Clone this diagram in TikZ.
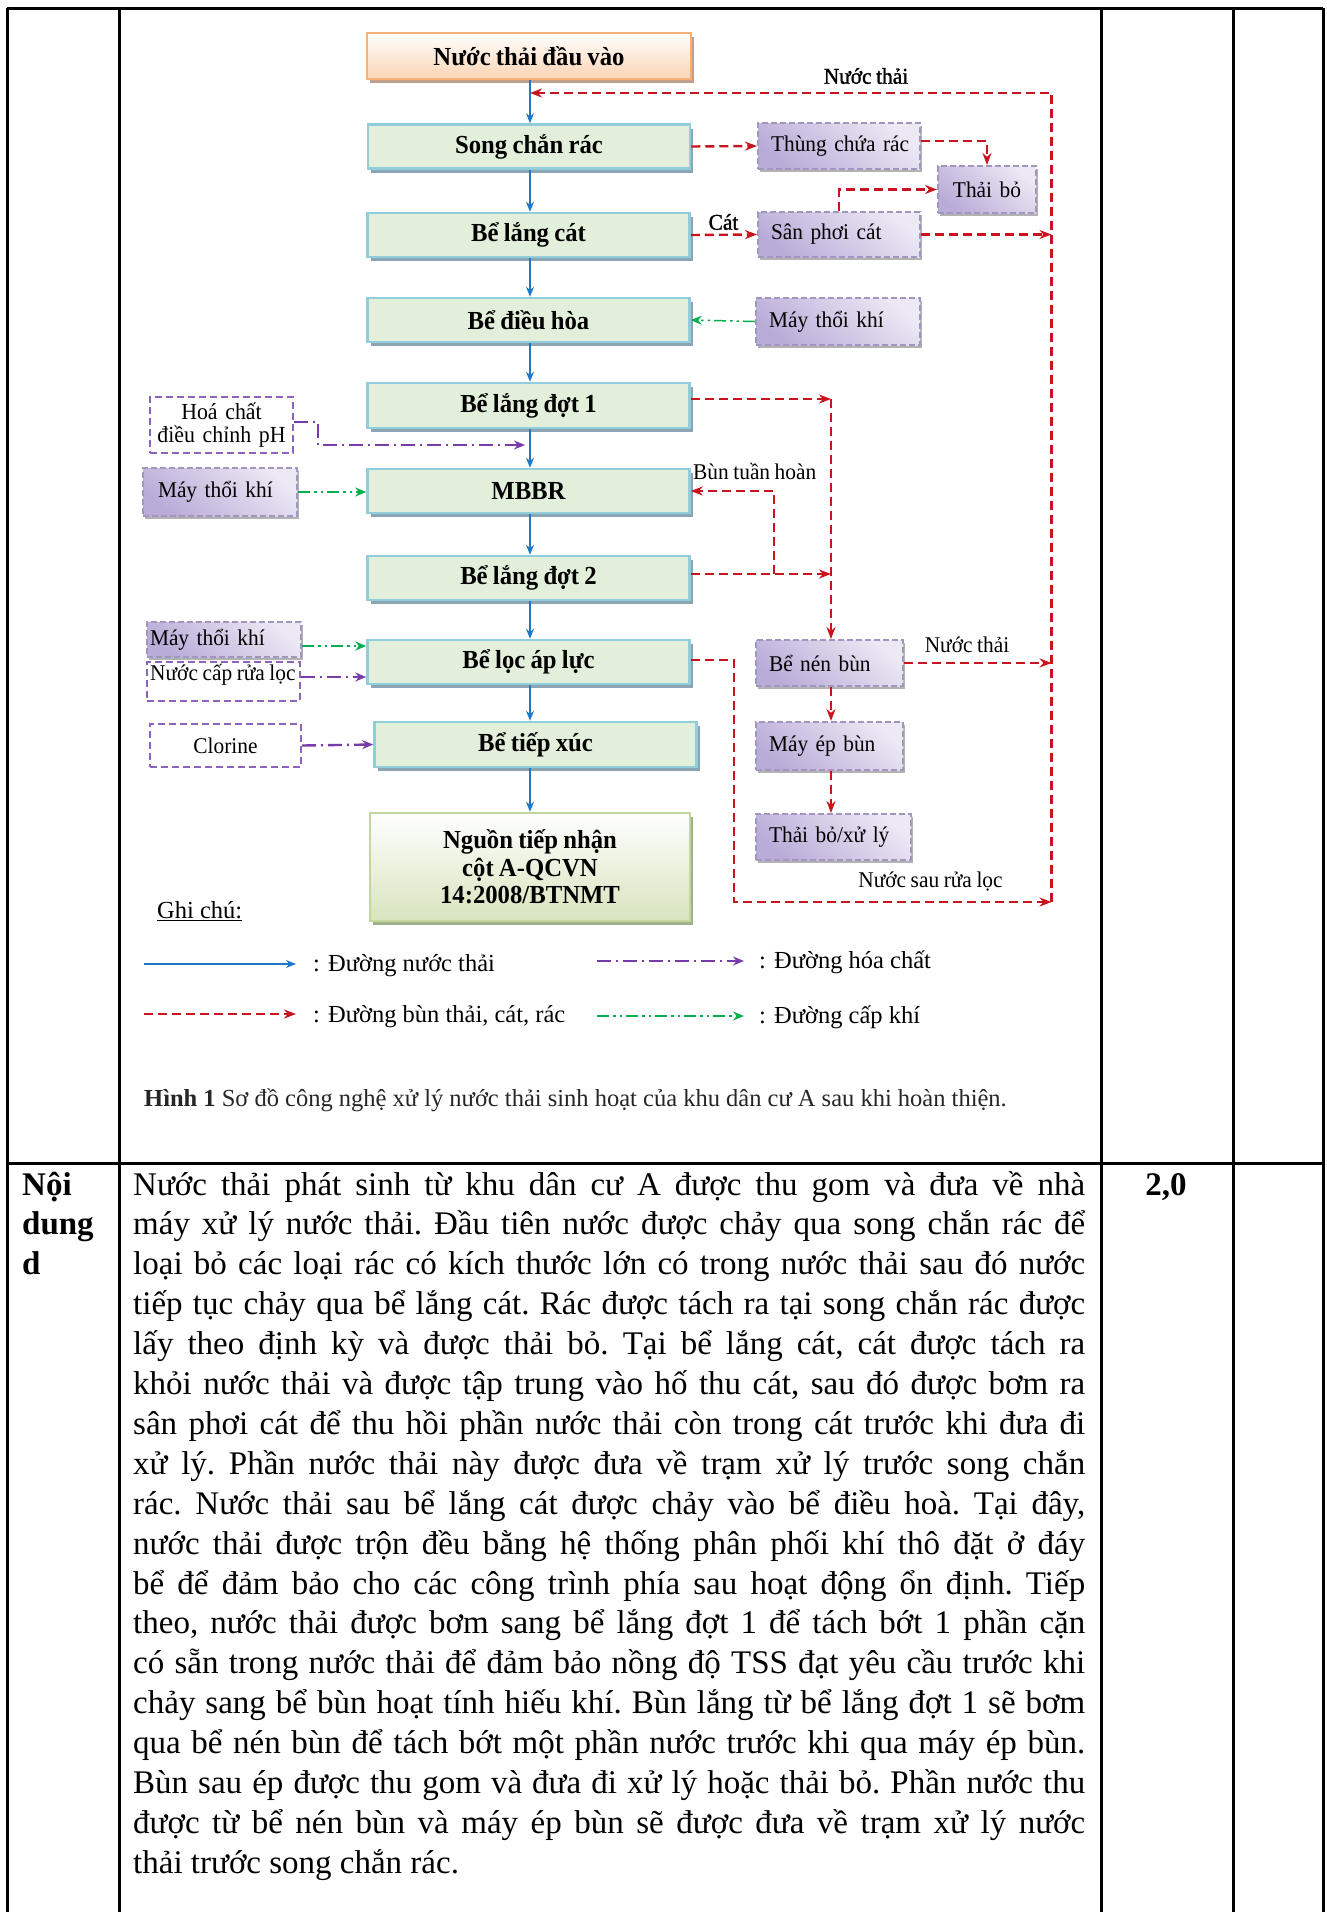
\documentclass[tikz,border=0pt]{standalone}
\usepackage{fontspec}
\setmainfont{Liberation Serif}
\newfontfamily\dgfont{Liberation Serif}[FakeStretch=0.95,WordSpace=0.85]
\newfontfamily\shfont{Liberation Serif}[FakeStretch=0.95,FakeBold=1.2,WordSpace=0.85]
\usetikzlibrary{arrows.meta,shadows,calc}
\definecolor{mfill}{RGB}{226,239,218}
\definecolor{mbord}{RGB}{146,205,220}
\definecolor{mshad}{RGB}{140,165,180}
\definecolor{ofill}{RGB}{251,212,180}
\definecolor{obord}{RGB}{247,176,120}
\definecolor{oshad}{RGB}{190,160,140}
\definecolor{gfill}{RGB}{215,228,189}
\definecolor{gbord}{RGB}{195,214,155}
\definecolor{gshad}{RGB}{160,175,140}
\definecolor{pdark}{RGB}{186,172,216}
\definecolor{plight}{RGB}{236,232,244}
\definecolor{pbord}{RGB}{160,150,190}
\definecolor{wbord}{RGB}{140,100,190}
\definecolor{redl}{RGB}{200,20,30}
\definecolor{bluel}{RGB}{30,120,200}
\definecolor{purl}{RGB}{120,60,170}
\definecolor{grnl}{RGB}{0,176,80}
\newcommand\boxfont{\dgfont\bfseries\fontsize{26}{29}\selectfont}
\newcommand\nguonfont{\dgfont\bfseries\fontsize{26}{27.5}\selectfont}
\newcommand\smallfont{\dgfont\fontsize{22.5}{23}\selectfont}
\newcommand\legfont{\fontsize{24.5}{28}\selectfont}
\newcommand\capfont{\fontsize{24.5}{28}\selectfont}
\newcommand\bodyfont{\fontsize{33}{39.9}\selectfont\frenchspacing}
\newcommand\bline[3]{\node[anchor=base west, inner sep=0pt, font=\bodyfont] (#1) at (133,#2) {\hbox to 952pt{#3}};}
\begin{document}
\begin{tikzpicture}[x=1pt,y=-1pt,
  tbl/.style={line width=3pt, black},
  mainbox/.style={draw=mbord, line width=2.5pt, fill=mfill, minimum width=322pt, minimum height=44pt, inner sep=0pt, font=\boxfont},
  mshadow/.style={drop shadow={shadow xshift=3pt, shadow yshift=-4pt, fill=mshad, opacity=1}},
  oshadow/.style={drop shadow={shadow xshift=3pt, shadow yshift=-4pt, fill=oshad, opacity=1}},
  gshadow/.style={drop shadow={shadow xshift=3pt, shadow yshift=-4pt, fill=gshad, opacity=1}},
  pbox/.style={draw=pbord, line width=2pt, dash pattern=on 6pt off 3pt, top color=plight, bottom color=pdark, shading angle=-40, inner xsep=13pt, inner ysep=0pt, align=left, font=\smallfont, drop shadow={shadow xshift=2pt, shadow yshift=-3pt, fill=black!30, opacity=1}},
  wbox/.style={draw=wbord, line width=2pt, dash pattern=on 7pt off 4pt, fill=white, inner ysep=0pt, font=\smallfont},
  lbl/.style={inner sep=0pt, font=\smallfont},
  bluear/.style={draw=bluel, line width=1.5pt, -{Stealth[length=10pt,width=8pt]}},
  redln/.style={draw=redl, line width=2.4pt, dash pattern=on 9pt off 5pt},
  redar/.style={redln, -{Stealth[length=12pt,width=9pt]}},
  purar/.style={draw=purl, line width=2.4pt, dash pattern=on 14pt off 5pt on 2pt off 5pt, -{Stealth[length=11pt,width=9pt]}},
  grnar/.style={draw=grnl, line width=2.4pt, dash pattern=on 12pt off 4pt on 2.5pt off 4pt on 2.5pt off 4pt, -{Stealth[length=11pt,width=9pt]}}
]
\useasboundingbox (0,0) rectangle (1327,1912);
\fill[white] (0,0) rectangle (1327,1912);

% table
\draw[tbl] (7,8) -- (1323,8);
\draw[tbl] (7,8) -- (7,1912);
\draw[tbl] (119,8) -- (119,1912);
\draw[tbl] (1101,8) -- (1101,1912);
\draw[tbl] (1233,8) -- (1233,1912);
\draw[tbl] (1323,8) -- (1323,1912);
\draw[tbl] (7,1163) -- (1323,1163);

% main column
\node[mainbox, draw=obord, top color=white, bottom color=ofill, oshadow, minimum width=324pt, minimum height=46pt] (inb) at (529,56) {Nước thải đầu vào};
\node[mainbox, mshadow] (song) at (529,146.5) {Song chắn rác};
\node[mainbox, mshadow] (cat) at (528.5,235) {Bể lắng cát};
\node[mainbox, mshadow] (dh) at (528.5,320) {Bể điều hòa};
\node[mainbox, mshadow, minimum height=45pt] (l1) at (528.5,405.5) {Bể lắng đợt 1};
\node[mainbox, mshadow] (mbbr) at (528.5,491) {MBBR};
\node[mainbox, mshadow] (l2) at (528.5,578) {Bể lắng đợt 2};
\node[mainbox, mshadow] (loc) at (528.5,662) {Bể lọc áp lực};
\node[mainbox, mshadow, minimum height=45pt] (tx) at (535.5,744.5) {Bể tiếp xúc};
\node[mainbox, draw=gbord, top color=white, bottom color=gfill, gshadow, minimum width=320pt, minimum height=108pt, align=center, font=\nguonfont] (ng) at (530,867) {Nguồn tiếp nhận\\cột A-QCVN\\14:2008/BTNMT};

% purple boxes
\node[pbox, minimum height=46pt, text width=136pt] (thung) at (839,146) {\mbox{Thùng chứa rác}};
\node[pbox, minimum height=47pt, text width=72pt, align=center] (thaibo) at (987,189.5) {\mbox{Thải bỏ}};
\node[pbox, minimum height=45pt, text width=136pt] (sanphoi) at (839,234.5) {\mbox{Sân phơi cát}};
\node[pbox, minimum height=47pt, text width=138pt] (mtk1) at (838,321.5) {\mbox{Máy thổi khí}};
\node[pbox, minimum height=48pt, inner xsep=15pt, text width=124pt] (mtk2) at (220,492) {\mbox{Máy thổi khí}};
\node[pbox, minimum height=35pt, inner xsep=3pt, text width=148pt] (mtk3) at (224,639.5) {\mbox{Máy thổi khí}};
\node[pbox, minimum height=46pt, text width=121pt] (nen) at (829.5,663) {\mbox{Bể nén bùn}};
\node[pbox, minimum height=48pt, text width=121pt] (ep) at (829.5,746) {\mbox{Máy ép bùn}};
\node[pbox, minimum height=46pt, text width=129pt] (xuly) at (833.5,837) {\mbox{Thải bỏ/xử lý}};

% white dashed boxes
\node[wbox, minimum height=56pt, text width=133pt, inner xsep=5pt, align=center, font=\dgfont\fontsize{23}{23}\selectfont] (hoa) at (221.5,425) {Hoá chất\\điều chỉnh pH};
\node[wbox, minimum height=39pt, minimum width=153pt] (nuoc) at (223.5,681.5) {};
\node[lbl, anchor=west] (nuoctxt) at (150,675) {Nước cấp rửa lọc};
\node[wbox, minimum height=43pt, text width=141pt, inner xsep=5pt, align=center] (clo) at (225.5,745.5) {Clorine};

% coordinates
\coordinate (mx) at (530,0);
\coordinate (rt) at (1051.5,93);
\coordinate (rb) at (1051.5,902);
\coordinate (v1) at (831,399);
\coordinate (v2) at (831,574);
\coordinate (rc) at (774,574);
\coordinate (bl) at (734,660);
\coordinate (h1) at (318,445);
\coordinate (g3) at (0,646);
\coordinate (p3) at (0,677);

% blue main flow
\draw[bluear] (inb.south -| mx) -- (song.north -| mx);
\draw[bluear] (song.south -| mx) -- (cat.north -| mx);
\draw[bluear] (cat.south -| mx) -- (dh.north -| mx);
\draw[bluear] (dh.south -| mx) -- (l1.north -| mx);
\draw[bluear] (l1.south -| mx) -- (mbbr.north -| mx);
\draw[bluear] (mbbr.south -| mx) -- (l2.north -| mx);
\draw[bluear] (l2.south -| mx) -- (loc.north -| mx);
\draw[bluear] (loc.south -| mx) -- (tx.north -| mx);
\draw[bluear] (tx.south -| mx) -- (ng.north -| mx);

% red sludge / waste lines
\draw[redar] (rb) -- (rt) -- (rt -| mx);
\draw[redar] (song.east) -- (thung.west);
\draw[redar] ([yshift=5pt]thung.east) -| (thaibo.north);
\draw[redar] (cat.east) -- (sanphoi.west);
\draw[redar] (sanphoi.north) |- (thaibo.west);
\draw[redar] (sanphoi.east) -- (sanphoi.east -| rt);
\draw[redar] (l1.east |- v1) -- (v1);
\draw[redar] (v1) -- (v1 |- nen.north);
\draw[redar] (l2.east |- v2) -- (v2);
\draw[redar] (rc) |- (mbbr.east);
\draw[redar] (nen.south -| v1) -- (ep.north -| v1);
\draw[redar] (ep.south -| v1) -- (xuly.north -| v1);
\draw[redar] (nen.east) -- (nen.east -| rt);
\draw[redar] (loc.east |- bl) -- (bl) -- (bl |- rb) -- (rb);

% air and chemicals
\draw[grnar, line width=1.5pt] (mtk1.west) -- (dh.east);
\draw[grnar] (mtk2.east) -- (mtk2.east -| mbbr.west);
\draw[grnar] (mtk3.east |- g3) -- (loc.west |- g3);
\draw[purar] (nuoc.east |- p3) -- (loc.west |- p3);
\draw[purar] (clo.east) -- (tx.west);
\draw[purar, shorten >=5pt] ([yshift=3pt]hoa.east) -| (h1) -- (h1 -| mx);

% labels
\node[lbl, font=\shfont\fontsize{22.5}{23}\selectfont] (lnt1) at (866,76) {Nước thải};
\node[lbl, font=\shfont\fontsize{22.5}{23}\selectfont] (lcat) at (723.5,222) {Cát};
\node[lbl, anchor=west] (lbth) at (693,471) {Bùn tuần hoàn};
\node[lbl] (lnt2) at (967,645) {Nước thải};
\node[lbl] (lnsr) at (930.5,882) {Nước sau rửa lọc};

% legend
\node[anchor=base west, inner sep=0pt, font=\legfont] (ghichu) at (157,918) {\underline{Ghi chú:}};
\coordinate (lg1a) at (144,964);
\coordinate (lg1b) at (296,964);
\coordinate (lg2a) at (144,1014);
\coordinate (lg2b) at (296,1014);
\coordinate (lg3a) at (597,961);
\coordinate (lg3b) at (744,961);
\coordinate (lg4a) at (597,1016);
\coordinate (lg4b) at (744,1016);
\draw[bluear] (lg1a) -- (lg1b);
\draw[redar] (lg2a) -- (lg2b);
\draw[purar] (lg3a) -- (lg3b);
\draw[grnar] (lg4a) -- (lg4b);
\node[anchor=base west, inner sep=0pt, font=\legfont] (lt1) at (313,971) {: Đường nước thải};
\node[anchor=base west, inner sep=0pt, font=\legfont] (lt2) at (313,1022) {: Đường bùn thải, cát, rác};
\node[anchor=base west, inner sep=0pt, font=\legfont] (lt3) at (759,968) {: Đường hóa chất};
\node[anchor=base west, inner sep=0pt, font=\legfont] (lt4) at (759,1023) {: Đường cấp khí};

% caption
\node[anchor=base west, inner sep=0pt, font=\capfont, text=black!85] (cap) at (144,1106) {\textbf{Hình 1} Sơ đồ công nghệ xử lý nước thải sinh hoạt của khu dân cư A sau khi hoàn thiện.};

% second row
\node[anchor=base west, inner sep=0pt, font=\bodyfont\bfseries] (nd1) at (22,1195) {Nội};
\node[anchor=base west, inner sep=0pt, font=\bodyfont\bfseries] (nd2) at (22,1234.9) {dung};
\node[anchor=base west, inner sep=0pt, font=\bodyfont\bfseries] (nd3) at (22,1274.8) {d};
\node[anchor=base, inner sep=0pt, font=\bodyfont\bfseries] (score) at (1166,1195) {2,0};

\bline{t1}{1195}{Nước thải phát sinh từ khu dân cư A được thu gom và đưa về nhà}
\bline{t2}{1234.9}{máy xử lý nước thải. Đầu tiên nước được chảy qua song chắn rác để}
\bline{t3}{1274.8}{loại bỏ các loại rác có kích thước lớn có trong nước thải sau đó nước}
\bline{t4}{1314.7}{tiếp tục chảy qua bể lắng cát. Rác được tách ra tại song chắn rác được}
\bline{t5}{1354.6}{lấy theo định kỳ và được thải bỏ. Tại bể lắng cát, cát được tách ra}
\bline{t6}{1394.5}{khỏi nước thải và được tập trung vào hố thu cát, sau đó được bơm ra}
\bline{t7}{1434.4}{sân phơi cát để thu hồi phần nước thải còn trong cát trước khi đưa đi}
\bline{t8}{1474.3}{xử lý. Phần nước thải này được đưa về trạm xử lý trước song chắn}
\bline{t9}{1514.2}{rác. Nước thải sau bể lắng cát được chảy vào bể điều hoà. Tại đây,}
\bline{t10}{1554.1}{nước thải được trộn đều bằng hệ thống phân phối khí thô đặt ở đáy}
\bline{t11}{1594}{bể để đảm bảo cho các công trình phía sau hoạt động ổn định. Tiếp}
\bline{t12}{1633.9}{theo, nước thải được bơm sang bể lắng đợt 1 để tách bớt 1 phần cặn}
\bline{t13}{1673.8}{có sẵn trong nước thải để đảm bảo nồng độ TSS đạt yêu cầu trước khi}
\bline{t14}{1713.7}{chảy sang bể bùn hoạt tính hiếu khí. Bùn lắng từ bể lắng đợt 1 sẽ bơm}
\bline{t15}{1753.6}{qua bể nén bùn để tách bớt một phần nước trước khi qua máy ép bùn.}
\bline{t16}{1793.5}{Bùn sau ép được thu gom và đưa đi xử lý hoặc thải bỏ. Phần nước thu}
\bline{t17}{1833.4}{được từ bể nén bùn và máy ép bùn sẽ được đưa về trạm xử lý nước}
\bline{t18}{1873.3}{thải trước song chắn rác.\hfil}
\end{tikzpicture}
\end{document}
